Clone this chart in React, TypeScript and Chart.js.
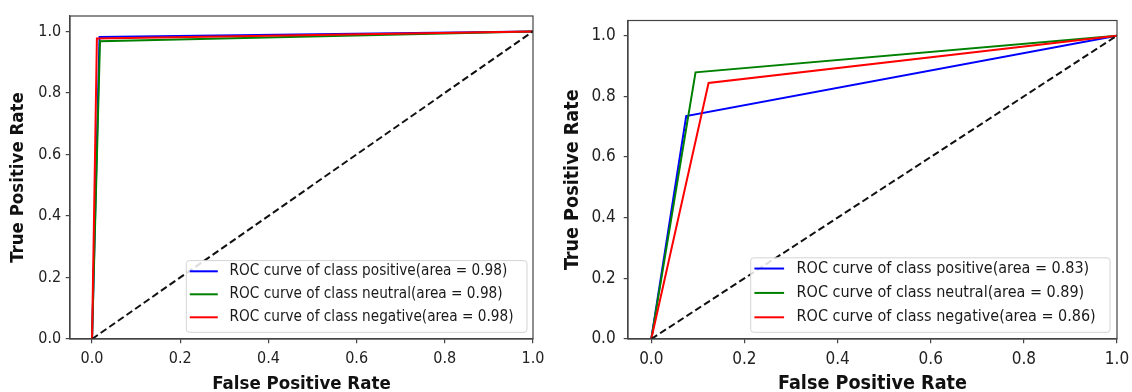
import React, { useEffect, useRef } from 'react';
import { Chart, registerables } from 'chart.js';

Chart.register(...registerables);

// ---- data ----
const tickValues = [0, 0.2, 0.4, 0.6, 0.8, 1.0];
const classNames = ['positive', 'neutral', 'negative'];
const classColors = ['#0000ff', '#008000', '#ff0000'];
const chanceFpr = [0, 1];
const chanceTpr = [0, 1];

// left panel
const leftAreas = [0.98, 0.98, 0.98];
const leftPositiveFpr = [0, 0.017, 1];
const leftPositiveTpr = [0, 0.982, 1];
const leftNeutralFpr = [0, 0.018, 1];
const leftNeutralTpr = [0, 0.968, 1];
const leftNegativeFpr = [0, 0.011, 1];
const leftNegativeTpr = [0, 0.977, 1];

// right panel
const rightAreas = [0.83, 0.89, 0.86];
const rightPositiveFpr = [0, 0.075, 1];
const rightPositiveTpr = [0, 0.735, 1];
const rightNeutralFpr = [0, 0.095, 1];
const rightNeutralTpr = [0, 0.879, 1];
const rightNegativeFpr = [0, 0.123, 1];
const rightNegativeTpr = [0, 0.844, 1];

const FONT = "'DejaVu Sans Condensed', 'DejaVu Sans', sans-serif";

const toPoints = (xs: number[], ys: number[]) => xs.map((x, i) => ({ x, y: ys[i] }));

const framePlugin = {
  id: 'frame',
  afterDraw(chart: any, _args: any, opts: any) {
    const { ctx, chartArea } = chart;
    const { left, top, right, bottom } = chartArea;
    ctx.save();
    ctx.strokeStyle = opts.color || '#444';
    ctx.lineWidth = opts.width || 1.2;
    ctx.strokeRect(left, top, right - left, bottom - top);
    ctx.restore();
  },
};

const boxLegendPlugin = {
  id: 'boxLegend',
  afterDatasetsDraw(chart: any, _args: any, opts: any) {
    const { ctx, chartArea } = chart;
    const s = opts.scale || 1;
    const items = chart.data.datasets.filter((d: any) => d.label);
    ctx.save();
    ctx.font = `${opts.fontSize}px ${FONT}`;
    let maxW = 0;
    items.forEach((d: any) => {
      maxW = Math.max(maxW, ctx.measureText(d.label).width);
    });
    const textOff = 43.3 * s;
    const width = textOff + maxW + 13.5 * s;
    const rowGap = 23 * s;
    const topPad = 10.7;
    const botPad = 15;
    const height = topPad + rowGap * (items.length - 1) + botPad;
    const right = chartArea.right - opts.insetRight;
    const bottom = chartArea.bottom - opts.insetBottom;
    const left = right - width;
    const top = bottom - height;
    const r = 3;
    ctx.beginPath();
    ctx.moveTo(left + r, top);
    ctx.lineTo(right - r, top);
    ctx.arcTo(right, top, right, top + r, r);
    ctx.lineTo(right, bottom - r);
    ctx.arcTo(right, bottom, right - r, bottom, r);
    ctx.lineTo(left + r, bottom);
    ctx.arcTo(left, bottom, left, bottom - r, r);
    ctx.lineTo(left, top + r);
    ctx.arcTo(left, top, left + r, top, r);
    ctx.closePath();
    ctx.fillStyle = 'rgba(255,255,255,0.85)';
    ctx.fill();
    ctx.strokeStyle = '#d4d4d4';
    ctx.lineWidth = 1;
    ctx.stroke();
    items.forEach((d: any, i: number) => {
      const y = top + topPad + i * rowGap;
      ctx.beginPath();
      ctx.strokeStyle = d.borderColor;
      ctx.lineWidth = 2;
      ctx.moveTo(left + 3.5 * s, y);
      ctx.lineTo(left + 31.5 * s, y);
      ctx.stroke();
      ctx.fillStyle = '#1a1a1a';
      ctx.textBaseline = 'middle';
      ctx.textAlign = 'left';
      ctx.fillText(d.label, left + textOff, y);
    });
    ctx.restore();
  },
};

type Panel = {
  fprs: number[][];
  tprs: number[][];
  areas: number[];
  width: number;
  yAxisWidth: number;
  padTop: number;
  padRight: number;
  xAxisHeight: number;
  tickFont: number;
  titleFont: number;
  legendFont: number;
  legendScale: number;
  yTickPad: number;
  yTitlePad: number;
  insetRight: number;
  insetBottom: number;
};

const leftPanel: Panel = {
  fprs: [leftPositiveFpr, leftNeutralFpr, leftNegativeFpr],
  tprs: [leftPositiveTpr, leftNeutralTpr, leftNegativeTpr],
  areas: leftAreas,
  width: 560,
  yAxisWidth: 70,
  padTop: 16,
  padRight: 27,
  xAxisHeight: 53,
  tickFont: 16,
  titleFont: 18.5,
  legendFont: 15.2,
  legendScale: 1,
  yTickPad: 4.5,
  yTitlePad: 7,
  insetRight: 6,
  insetBottom: 6.7,
};

const rightPanel: Panel = {
  fprs: [rightPositiveFpr, rightNeutralFpr, rightNegativeFpr],
  tprs: [rightPositiveTpr, rightNeutralTpr, rightNegativeTpr],
  areas: rightAreas,
  width: 572,
  yAxisWidth: 68,
  padTop: 20.5,
  padRight: 15,
  xAxisHeight: 53,
  tickFont: 17,
  titleFont: 19.6,
  legendFont: 16,
  legendScale: 1.06,
  yTickPad: 8,
  yTitlePad: 1,
  insetRight: 7,
  insetBottom: 6.7,
};

function buildConfig(p: Panel): any {
  const datasets: any[] = classNames.map((name, i) => ({
    label: `ROC curve of class ${name}(area = ${p.areas[i].toFixed(2)})`,
    data: toPoints(p.fprs[i], p.tprs[i]),
    borderColor: classColors[i],
    backgroundColor: classColors[i],
    borderWidth: 2,
    showLine: true,
    pointRadius: 0,
    fill: false,
    order: 3 - i,
  }));
  datasets.push({
    label: '',
    data: toPoints(chanceFpr, chanceTpr),
    borderColor: '#111',
    borderWidth: 2,
    borderDash: [7, 3.5],
    showLine: true,
    pointRadius: 0,
    fill: false,
    order: 0,
  });
  const gridCommon = {
    drawOnChartArea: false,
    drawTicks: true,
    tickLength: 4.3,
    color: '#444',
    lineWidth: 1.2,
  };
  const setTicks = (scale: any) => {
    scale.ticks = tickValues.map((v) => ({ value: v }));
  };
  return {
    type: 'scatter',
    data: { datasets },
    options: {
      responsive: false,
      animation: false,
      devicePixelRatio: 1,
      layout: { padding: { top: p.padTop, right: p.padRight, left: 0, bottom: 0 } },
      plugins: {
        legend: { display: false },
        tooltip: { enabled: false },
        frame: { color: '#444', width: 1.2 },
        boxLegend: {
          fontSize: p.legendFont,
          scale: p.legendScale,
          insetRight: p.insetRight,
          insetBottom: p.insetBottom,
        },
      },
      scales: {
        x: {
          type: 'linear',
          min: -0.05,
          max: 1.0,
          afterBuildTicks: setTicks,
          afterFit: (scale: any) => {
            scale.height = p.xAxisHeight;
            scale.paddingLeft = 0;
            scale.paddingRight = 0;
          },
          grid: gridCommon,
          border: { display: true, color: '#444', width: 1.2 },
          ticks: {
            padding: 6,
            color: '#222',
            font: { family: FONT, size: p.tickFont },
            maxRotation: 0,
            callback: (v: any) => Number(v).toFixed(1),
          },
          title: {
            display: true,
            text: 'False Positive Rate',
            color: '#111',
            font: { family: FONT, size: p.titleFont, weight: 'bold', lineHeight: 1.0 },
            padding: { top: 0, bottom: -1.5 },
          },
        },
        y: {
          type: 'linear',
          min: 0,
          max: 1.05,
          afterBuildTicks: setTicks,
          afterFit: (scale: any) => {
            scale.width = p.yAxisWidth;
            scale.paddingTop = 0;
            scale.paddingBottom = 0;
          },
          grid: gridCommon,
          border: { display: true, color: '#444', width: 1.2 },
          ticks: {
            padding: p.yTickPad,
            color: '#222',
            font: { family: FONT, size: p.tickFont },
            callback: (v: any) => Number(v).toFixed(1),
          },
          title: {
            display: true,
            text: 'True Positive Rate',
            color: '#111',
            font: { family: FONT, size: p.titleFont, weight: 'bold', lineHeight: 1.2 },
            padding: { top: p.yTitlePad, bottom: 0 },
          },
        },
      },
    },
    plugins: [framePlugin, boxLegendPlugin],
  };
}

function RocPanel({ panel, left }: { panel: Panel; left: number }) {
  const ref = useRef<HTMLCanvasElement | null>(null);
  useEffect(() => {
    if (!ref.current) return;
    const chart = new Chart(ref.current, buildConfig(panel));
    return () => chart.destroy();
  }, [panel]);
  return (
    <div style={{ position: 'absolute', left, top: 0, width: panel.width, height: 392 }}>
      <canvas ref={ref} width={panel.width} height={392} style={{ display: 'block' }} />
    </div>
  );
}

export default function App() {
  return (
    <div style={{ position: 'absolute', left: 0, top: 0, width: 1132, height: 392, background: '#fff', overflow: 'hidden' }}>
      <RocPanel panel={leftPanel} left={0} />
      <RocPanel panel={rightPanel} left={560} />
    </div>
  );
}
